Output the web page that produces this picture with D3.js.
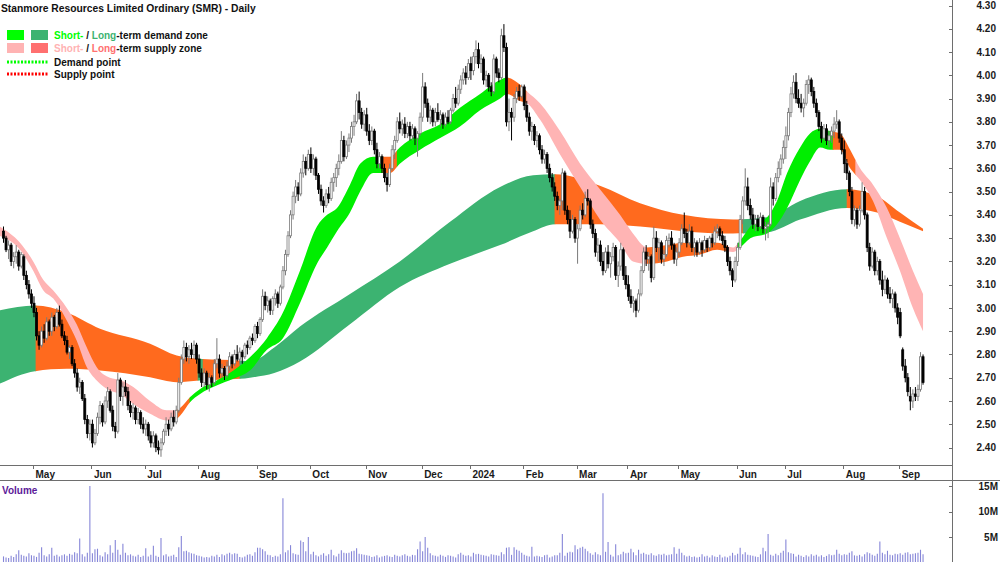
<!DOCTYPE html>
<html>
<head>
<meta charset="utf-8">
<script src="https://cdn.jsdelivr.net/npm/d3@7"></script>
<style>
  body { margin: 0; background: #fff; }
  svg { display: block; }
  text { font-family: "Liberation Sans", Arial, sans-serif; font-weight: bold; }
</style>
</head>
<body>
<div id="chart"></div>
<script>
// ---- data ----
const firstDay = "2023-04-12", lastDay = "2024-09-13";
const holidays = ["2023-04-25","2023-06-12","2023-12-25","2023-12-26","2024-01-01",
  "2024-01-26","2024-03-29","2024-04-01","2024-04-25","2024-06-10"];

// daily candles [open, high, low, close]
const candles = [
  // Apr 2023
  [3.33,3.35,3.28,3.30],[3.30,3.31,3.24,3.25],[3.25,3.29,3.21,3.27],[3.27,3.28,3.18,3.20],[3.20,3.24,3.17,3.22],[3.22,3.27,3.19,3.24],[3.24,3.25,3.16,3.18],[3.18,3.24,3.17,3.23],[3.22,3.23,3.12,3.14],[3.14,3.16,3.08,3.10],[3.10,3.12,3.04,3.06],[3.06,3.08,3.00,3.02],
  // May
  [3.02,3.05,2.96,2.98],[2.98,3.00,2.86,2.88],[2.88,2.90,2.82,2.84],[2.84,2.92,2.83,2.90],[2.90,2.93,2.85,2.87],[2.87,2.96,2.86,2.94],[2.94,2.95,2.88,2.90],[2.90,2.98,2.88,2.96],[2.96,2.97,2.90,2.92],[2.92,3.00,2.91,2.98],[2.98,3.01,2.92,2.93],[2.93,2.95,2.87,2.88],[2.88,2.90,2.84,2.86],[2.86,2.88,2.80,2.81],[2.81,2.84,2.78,2.83],[2.83,2.84,2.75,2.76],[2.76,2.78,2.70,2.72],[2.72,2.74,2.64,2.66],[2.66,2.70,2.63,2.68],[2.68,2.69,2.60,2.61],[2.61,2.63,2.50,2.52],[2.52,2.54,2.44,2.46],[2.46,2.52,2.43,2.50],
  // Jun
  [2.50,2.52,2.40,2.42],[2.42,2.48,2.41,2.46],[2.46,2.55,2.45,2.53],[2.53,2.60,2.50,2.58],[2.58,2.59,2.49,2.51],[2.51,2.62,2.50,2.60],[2.60,2.66,2.57,2.64],[2.64,2.65,2.55,2.56],[2.56,2.58,2.47,2.49],[2.49,2.51,2.44,2.47],[2.47,2.72,2.46,2.69],[2.69,2.70,2.60,2.62],[2.62,2.68,2.58,2.66],[2.66,2.69,2.62,2.64],[2.64,2.66,2.56,2.58],[2.58,2.60,2.53,2.55],[2.55,2.59,2.52,2.57],[2.57,2.58,2.50,2.52],[2.52,2.57,2.50,2.55],[2.55,2.56,2.48,2.50],[2.50,2.53,2.46,2.48],
  // Jul
  [2.48,2.52,2.45,2.50],[2.50,2.51,2.43,2.45],[2.45,2.47,2.40,2.42],[2.42,2.47,2.40,2.45],[2.45,2.46,2.38,2.40],[2.40,2.43,2.37,2.39],[2.39,2.44,2.36,2.42],[2.42,2.48,2.41,2.47],[2.47,2.53,2.45,2.50],[2.50,2.52,2.45,2.48],[2.48,2.55,2.47,2.53],[2.53,2.56,2.49,2.51],[2.51,2.58,2.50,2.56],[2.56,2.70,2.55,2.68],[2.68,2.80,2.67,2.78],[2.78,2.86,2.76,2.83],[2.83,2.85,2.77,2.79],[2.79,2.84,2.76,2.82],[2.82,2.85,2.78,2.80],[2.80,2.86,2.78,2.84],[2.84,2.85,2.76,2.78],
  // Aug
  [2.78,2.80,2.70,2.72],[2.72,2.74,2.66,2.68],[2.68,2.74,2.66,2.72],[2.72,2.73,2.65,2.67],[2.67,2.72,2.64,2.70],[2.70,2.71,2.66,2.68],[2.68,2.78,2.67,2.76],[2.76,2.87,2.74,2.78],[2.78,2.80,2.70,2.72],[2.72,2.76,2.70,2.74],[2.74,2.75,2.69,2.71],[2.71,2.77,2.70,2.75],[2.75,2.81,2.73,2.79],[2.79,2.80,2.74,2.76],[2.76,2.82,2.75,2.80],[2.80,2.84,2.77,2.78],[2.78,2.83,2.76,2.81],[2.81,2.82,2.76,2.79],[2.79,2.85,2.78,2.84],[2.84,2.86,2.80,2.83],[2.83,2.88,2.82,2.87],[2.87,2.89,2.84,2.86],[2.86,2.93,2.85,2.92],
  // Sep
  [2.92,2.94,2.87,2.89],[2.89,2.96,2.88,2.95],[2.95,3.08,2.94,3.05],[3.05,3.07,2.99,3.01],[3.01,3.05,2.98,3.03],[3.03,3.04,2.97,2.99],[2.99,3.05,2.97,3.04],[3.04,3.08,3.01,3.06],[3.06,3.07,3.00,3.02],[3.02,3.10,3.01,3.09],[3.09,3.18,3.08,3.16],[3.16,3.25,3.14,3.23],[3.23,3.33,3.22,3.31],[3.31,3.42,3.30,3.40],[3.40,3.50,3.38,3.48],[3.48,3.55,3.45,3.52],[3.52,3.54,3.46,3.49],[3.49,3.60,3.48,3.58],[3.58,3.66,3.56,3.63],[3.63,3.65,3.57,3.60],[3.60,3.68,3.59,3.66],
  // Oct
  [3.66,3.69,3.58,3.60],[3.60,3.66,3.57,3.64],[3.64,3.65,3.55,3.57],[3.57,3.58,3.49,3.51],[3.51,3.53,3.44,3.46],[3.46,3.48,3.41,3.44],[3.44,3.51,3.43,3.49],[3.49,3.52,3.45,3.47],[3.47,3.56,3.46,3.54],[3.54,3.58,3.50,3.56],[3.56,3.62,3.52,3.60],[3.60,3.66,3.57,3.63],[3.63,3.76,3.62,3.72],[3.72,3.74,3.63,3.65],[3.65,3.72,3.64,3.70],[3.70,3.75,3.67,3.73],[3.73,3.80,3.71,3.78],[3.78,3.83,3.74,3.80],[3.80,3.92,3.79,3.89],[3.89,3.93,3.81,3.84],[3.84,3.86,3.77,3.79],[3.79,3.85,3.76,3.83],
  // Nov
  [3.83,3.86,3.74,3.76],[3.76,3.79,3.70,3.72],[3.72,3.78,3.70,3.76],[3.76,3.77,3.66,3.68],[3.68,3.71,3.60,3.62],[3.62,3.67,3.60,3.65],[3.65,3.66,3.58,3.60],[3.60,3.62,3.54,3.56],[3.56,3.58,3.50,3.53],[3.53,3.62,3.52,3.60],[3.60,3.70,3.59,3.68],[3.68,3.74,3.64,3.72],[3.72,3.82,3.71,3.80],[3.80,3.84,3.75,3.77],[3.77,3.81,3.74,3.79],[3.79,3.82,3.73,3.75],[3.75,3.80,3.73,3.78],[3.78,3.80,3.72,3.74],[3.74,3.79,3.72,3.77],[3.77,3.78,3.70,3.73],[3.73,3.76,3.65,3.75],[3.75,3.84,3.74,3.82],
  // Dec
  [3.82,4.01,3.80,3.95],[3.95,3.97,3.86,3.88],[3.88,3.90,3.80,3.82],[3.82,3.87,3.79,3.85],[3.85,3.86,3.78,3.80],[3.80,3.86,3.78,3.84],[3.84,3.88,3.80,3.81],[3.81,3.85,3.78,3.83],[3.83,3.84,3.77,3.79],[3.79,3.84,3.78,3.82],[3.82,3.85,3.79,3.80],[3.80,3.86,3.79,3.85],[3.85,3.92,3.84,3.90],[3.90,3.95,3.86,3.88],[3.88,3.96,3.87,3.94],[3.94,4.00,3.92,3.98],[3.98,4.03,3.96,4.01],[4.01,4.04,3.96,3.99],[3.99,4.07,3.98,4.05],
  // Jan 2024
  [4.05,4.08,3.98,4.02],[4.02,4.10,4.00,4.08],[4.08,4.15,4.05,4.11],[4.11,4.14,4.03,4.05],[4.05,4.09,4.01,4.07],[4.07,4.08,3.96,3.98],[3.98,4.02,3.95,4.00],[4.00,4.01,3.93,3.95],[3.95,3.97,3.91,3.93],[3.93,4.09,3.92,4.07],[4.07,4.08,3.99,4.01],[4.01,4.03,3.97,3.99],[3.99,4.20,3.98,4.17],[4.17,4.22,4.10,4.12],[4.12,4.14,3.78,3.80],[3.80,3.90,3.76,3.84],[3.84,3.86,3.72,3.82],[3.82,3.92,3.80,3.90],[3.90,3.95,3.88,3.93],[3.93,3.96,3.89,3.91],[3.91,3.96,3.90,3.95],
  // Feb
  [3.95,3.96,3.85,3.87],[3.87,3.89,3.80,3.82],[3.82,3.84,3.74,3.76],[3.76,3.80,3.72,3.78],[3.78,3.79,3.70,3.72],[3.72,3.76,3.69,3.74],[3.74,3.75,3.66,3.68],[3.68,3.70,3.62,3.64],[3.64,3.68,3.62,3.66],[3.66,3.67,3.58,3.60],[3.60,3.62,3.54,3.56],[3.56,3.58,3.50,3.52],[3.52,3.54,3.46,3.48],[3.48,3.50,3.42,3.44],[3.44,3.47,3.40,3.46],[3.46,3.60,3.42,3.58],[3.58,3.59,3.40,3.42],[3.42,3.44,3.36,3.38],[3.38,3.42,3.30,3.33],[3.33,3.40,3.32,3.38],[3.38,3.39,3.28,3.30],
  // Mar
  [3.30,3.36,3.19,3.34],[3.34,3.44,3.33,3.42],[3.42,3.45,3.38,3.40],[3.40,3.50,3.39,3.47],[3.47,3.51,3.44,3.46],[3.46,3.47,3.34,3.36],[3.36,3.38,3.30,3.32],[3.32,3.34,3.22,3.24],[3.24,3.30,3.20,3.27],[3.27,3.29,3.18,3.20],[3.20,3.24,3.14,3.16],[3.16,3.26,3.15,3.24],[3.24,3.27,3.17,3.19],[3.19,3.24,3.13,3.22],[3.22,3.28,3.20,3.26],[3.26,3.27,3.12,3.14],[3.14,3.20,3.09,3.18],[3.18,3.28,3.16,3.25],[3.25,3.26,3.12,3.14],[3.14,3.18,3.08,3.10],
  // Apr
  [3.10,3.14,3.03,3.05],[3.05,3.08,3.00,3.02],[3.02,3.05,2.98,3.03],[3.03,3.04,2.96,2.99],[2.99,3.08,2.98,3.06],[3.06,3.18,3.05,3.16],[3.16,3.26,3.15,3.24],[3.24,3.27,3.18,3.21],[3.21,3.24,3.16,3.22],[3.22,3.23,3.11,3.13],[3.13,3.35,3.12,3.30],[3.30,3.33,3.24,3.26],[3.26,3.30,3.20,3.28],[3.28,3.29,3.19,3.21],[3.21,3.25,3.18,3.23],[3.23,3.31,3.22,3.29],[3.29,3.32,3.26,3.30],[3.30,3.33,3.25,3.27],[3.27,3.28,3.19,3.21],[3.21,3.26,3.18,3.24],
  // May
  [3.24,3.30,3.22,3.28],[3.28,3.36,3.27,3.34],[3.34,3.41,3.30,3.32],[3.32,3.34,3.26,3.28],[3.28,3.36,3.27,3.33],[3.33,3.35,3.24,3.26],[3.26,3.30,3.22,3.28],[3.28,3.29,3.22,3.24],[3.24,3.30,3.23,3.28],[3.28,3.29,3.22,3.25],[3.25,3.31,3.24,3.29],[3.29,3.30,3.24,3.26],[3.26,3.31,3.25,3.30],[3.30,3.32,3.26,3.28],[3.28,3.35,3.27,3.33],[3.33,3.36,3.30,3.34],[3.34,3.35,3.29,3.31],[3.31,3.33,3.27,3.29],[3.29,3.31,3.24,3.26],[3.26,3.27,3.18,3.20],[3.20,3.22,3.14,3.16],[3.16,3.17,3.09,3.12],[3.12,3.22,3.11,3.20],
  // Jun
  [3.20,3.28,3.18,3.26],[3.26,3.40,3.25,3.38],[3.38,3.48,3.36,3.46],[3.46,3.60,3.44,3.52],[3.52,3.56,3.42,3.44],[3.44,3.47,3.38,3.40],[3.40,3.43,3.34,3.36],[3.36,3.40,3.33,3.38],[3.38,3.40,3.33,3.35],[3.35,3.41,3.34,3.39],[3.39,3.40,3.32,3.34],[3.34,3.37,3.29,3.35],[3.35,3.37,3.30,3.36],[3.36,3.56,3.35,3.52],[3.52,3.54,3.44,3.47],[3.47,3.58,3.46,3.56],[3.56,3.63,3.54,3.60],[3.60,3.66,3.57,3.64],[3.64,3.72,3.62,3.69],
  // Jul
  [3.69,3.78,3.64,3.74],[3.74,3.86,3.72,3.84],[3.84,3.95,3.82,3.92],[3.92,4.00,3.90,3.97],[3.97,4.01,3.88,3.90],[3.90,3.94,3.86,3.88],[3.88,3.92,3.84,3.86],[3.86,3.90,3.82,3.88],[3.88,3.98,3.87,3.96],[3.96,4.00,3.92,3.98],[3.98,3.99,3.91,3.93],[3.93,3.95,3.86,3.88],[3.88,3.90,3.82,3.84],[3.84,3.85,3.76,3.78],[3.78,3.80,3.71,3.73],[3.73,3.79,3.72,3.77],[3.77,3.79,3.70,3.72],[3.72,3.76,3.69,3.74],[3.74,3.78,3.71,3.76],[3.76,3.82,3.73,3.79],[3.79,3.85,3.77,3.80],[3.80,3.81,3.71,3.73],[3.73,3.75,3.66,3.68],
  // Aug
  [3.68,3.72,3.58,3.62],[3.62,3.64,3.55,3.58],[3.58,3.59,3.48,3.50],[3.50,3.52,3.36,3.38],[3.38,3.44,3.35,3.42],[3.42,3.43,3.34,3.36],[3.36,3.44,3.35,3.42],[3.42,3.54,3.41,3.50],[3.50,3.52,3.38,3.40],[3.40,3.41,3.24,3.26],[3.26,3.28,3.16,3.18],[3.18,3.26,3.17,3.24],[3.24,3.25,3.14,3.16],[3.16,3.22,3.14,3.20],[3.20,3.21,3.10,3.12],[3.12,3.16,3.05,3.08],[3.08,3.14,3.06,3.12],[3.12,3.13,3.04,3.06],[3.06,3.09,3.02,3.04],[3.04,3.08,3.00,3.06],[3.06,3.07,2.98,3.00],[3.00,3.02,2.93,2.96],
  // Sep
  [2.98,3.00,2.87,2.88],[2.82,2.83,2.73,2.75],[2.75,2.78,2.68,2.70],[2.70,2.72,2.62,2.64],[2.62,2.66,2.56,2.60],[2.60,2.65,2.57,2.63],[2.63,2.66,2.60,2.62],[2.62,2.67,2.60,2.65],[2.65,2.81,2.64,2.79],[2.79,2.80,2.67,2.68]
];

// daily volume, millions of shares
const volumes = [
  1.2,1.0,0.9,1.3,1.1,1.6,2.4,1.5,1.3,1.2,1.8,1.4,
  1.3,1.1,1.9,3.0,1.4,1.2,1.6,2.9,1.3,1.5,1.2,1.4,1.6,1.3,1.7,1.5,2.0,1.8,4.7,1.6,1.2,1.9,15.0,
  1.8,2.6,2.7,1.4,1.2,2.0,1.6,3.4,1.9,4.4,2.5,1.5,3.7,1.9,1.4,1.6,1.3,1.2,1.5,1.1,1.3,
  2.8,1.2,1.5,3.3,1.3,1.1,4.8,1.4,1.6,1.2,1.3,1.5,1.1,3.0,5.2,2.2,2.3,2.0,1.8,1.7,1.4,
  1.3,1.2,1.0,1.1,1.0,1.3,1.2,1.5,1.1,1.6,1.4,1.7,1.9,1.6,1.8,1.7,1.1,1.0,1.2,1.5,1.6,1.3,2.0,
  2.9,2.9,2.6,2.2,1.5,1.4,1.1,1.3,1.2,1.6,12.6,2.0,2.4,3.4,1.8,1.6,1.5,4.3,4.0,2.2,5.0,
  1.6,2.1,1.4,1.2,1.5,1.8,1.3,1.6,2.5,1.4,1.2,1.7,2.4,1.9,1.8,1.9,2.2,2.3,2.8,1.7,1.6,1.5,
  1.4,1.3,1.1,1.2,1.4,1.0,1.2,1.3,1.4,1.2,1.1,1.5,1.3,1.2,1.4,1.6,1.3,1.2,1.5,1.4,2.6,4.1,
  2.2,5.0,2.9,1.8,1.4,1.3,1.2,1.5,1.3,1.1,1.4,1.3,1.2,1.0,1.6,1.9,1.5,1.3,1.4,
  1.2,1.9,1.6,1.7,1.5,1.4,1.3,1.2,1.6,1.5,1.4,1.3,2.0,1.6,2.9,3.0,1.5,3.0,2.5,2.3,1.9,
  1.5,1.3,1.2,3.1,1.2,1.3,1.2,1.1,1.4,1.5,1.0,1.2,1.4,1.4,1.9,5.6,1.3,1.9,2.1,2.0,3.4,
  2.6,2.9,3.1,2.7,2.2,1.8,1.5,2.0,1.6,1.4,13.6,2.1,4.0,1.5,1.2,3.6,1.4,1.6,2.1,1.8,
  1.9,2.7,2.0,1.4,2.5,1.7,1.9,1.6,1.5,1.8,1.4,1.3,1.6,1.5,1.7,1.4,1.5,1.6,3.0,1.7,
  2.7,1.9,1.4,1.2,1.3,1.1,1.2,1.0,1.1,1.6,1.2,1.3,1.0,1.4,1.2,1.1,1.5,1.0,1.2,1.0,1.3,1.9,1.4,
  1.7,2.9,1.6,2.0,1.5,1.4,1.3,1.2,1.1,1.6,2.9,2.2,5.6,1.5,1.3,1.7,1.4,1.9,2.3,
  4.5,2.0,1.8,1.7,1.2,1.5,1.3,1.1,1.4,1.2,1.6,1.3,1.5,1.2,1.4,1.1,1.3,1.6,1.4,1.5,2.5,1.7,1.4,
  1.6,1.5,1.9,2.2,1.4,1.3,1.5,1.2,1.6,2.0,1.8,1.5,1.3,1.7,4.1,1.9,1.6,2.3,1.5,1.4,1.7,1.6,
  1.8,1.5,1.9,2.0,1.6,1.7,1.8,1.9,2.5,1.6
];

// short-term zone edges, sampled at trading-day index
const shortIdx = [-1.5,6.5,11.7,15.7,19.6,24.9,28.8,32.8,36.7,41.9,45.9,51.1,57.7,64.3,67.5,69.5,73.4,77.4,83.9,90.5,97,103.7,110,116.7,123.4,127.4,131.3,136.4,140.4,145.5,152.2,156,164,171.9,179.7,187.6,195.5,198.2,203.3,206.1,211.2,219.1,227,234.8,242.7,247.8,253.4,261.2,267.5,274.2,280.9,287.2,290,294,300.6,304.5,308.5,313.6,317.5,321.5,325.4,329.3,333.3,337.2,342.3,347.8,352.9,358,362];
const shortHi  = [3.35,3.28,3.20,3.12,3.075,3.00,2.93,2.83,2.745,2.70,2.69,2.66,2.60,2.56,2.56,2.57,2.616,2.652,2.688,2.731,2.788,2.87,2.98,3.16,3.35,3.40,3.43,3.53,3.62,3.65,3.65,3.69,3.75,3.79,3.86,3.92,3.98,3.99,3.96,3.93,3.88,3.76,3.62,3.51,3.40,3.32,3.26,3.27,3.28,3.275,3.28,3.26,3.29,3.35,3.39,3.46,3.58,3.69,3.75,3.77,3.76,3.75,3.68,3.60,3.53,3.43,3.30,3.16,3.06];
const shortLo  = [3.31,3.25,3.16,3.075,3.04,2.946,2.86,2.745,2.688,2.645,2.63,2.587,2.545,2.516,2.52,2.537,2.595,2.63,2.666,2.695,2.731,2.82,2.87,3.02,3.19,3.26,3.33,3.41,3.50,3.58,3.58,3.62,3.68,3.73,3.78,3.85,3.90,3.92,3.89,3.88,3.81,3.66,3.52,3.38,3.28,3.20,3.19,3.20,3.22,3.23,3.25,3.24,3.26,3.30,3.32,3.36,3.43,3.55,3.63,3.69,3.68,3.68,3.60,3.55,3.46,3.30,3.16,3.00,2.90];
// long-term zone edges
const longIdx = [-1.5,12.4,24.9,38,57.7,68.2,77.4,93.1,97,106.6,116.7,136.4,156,175.8,195.5,208.5,217.1,234.8,250.6,267.5,287.2,300.6,313.6,332.1,343.9,352.9,362];
const longHi  = [2.99,3.01,2.98,2.91,2.846,2.795,2.781,2.774,2.77,2.83,2.92,3.06,3.20,3.37,3.52,3.57,3.575,3.525,3.45,3.40,3.38,3.39,3.46,3.51,3.48,3.41,3.34];
const longLo  = [2.674,2.728,2.738,2.731,2.702,2.681,2.688,2.695,2.70,2.72,2.77,2.93,3.09,3.19,3.27,3.33,3.36,3.36,3.35,3.33,3.32,3.325,3.38,3.43,3.41,3.37,3.33];

// zone states along the index axis: [from, to, state]
const shortZones = [[-1.5,68.3,"supply"],[68.3,73.4,"turn"],[73.4,149.4,"demand"],[149.4,155,"turn"],[155,198.2,"demand"],[198.2,206,"turn"],[206,253.4,"supply"],[253.4,285,"turn"],[285,289,"supply"],[289,326.6,"demand"],[326.6,335.5,"turn"],[335.5,363,"supply"]];
const longZones = [[-1.5,12.8,"demand"],[12.8,76.6,"supply"],[76.6,78.6,"demand"],[78.6,93.1,"supply"],[93.1,217.1,"demand"],[217.1,291.2,"supply"],[291.2,332.1,"demand"],[332.1,363,"supply"]];

const priceTicks = [2.4,2.5,2.6,2.7,2.8,2.9,3.0,3.1,3.2,3.3,3.4,3.5,3.6,3.7,3.8,3.9,4.0,4.1,4.2,4.3];
const volumeTicks = [5,10,15];

// ---- layout ----
const W = 1000, H = 562, plotR = 952;
const priceTop = 0, priceBottom = 465;

const parseDate = d3.timeParse("%Y-%m-%d"), fmtDay = d3.timeFormat("%Y-%m-%d");
const days = d3.timeDay.range(parseDate(firstDay), d3.timeDay.offset(parseDate(lastDay), 1))
  .filter(d => d.getDay() % 6 !== 0 && !holidays.includes(fmtDay(d)));

const x = d3.scaleLinear().domain([-1.38, 373.4]).range([0, plotR]);
const y = d3.scaleLinear().domain([2.4, 4.3]).range([447.5, 5.5]);
const yv = d3.scaleLinear().domain([0, 15]).range([562.5, 486]);

const svg = d3.select("#chart").append("svg")
    .attr("width", W).attr("height", H);

svg.append("clipPath").attr("id", "plotClip")
  .append("rect").attr("x", 0).attr("y", priceTop).attr("width", plotR).attr("height", priceBottom - priceTop);

const plot = svg.append("g").attr("clip-path", "url(#plotClip)");

// zone bands
function drawBand(idx, hi, lo, zones, colors, name) {
  const pts = idx.map((d, k) => ({i: d, hi: hi[k], lo: lo[k]}));
  const area = d3.area().x(d => x(d.i)).y0(d => y(d.lo)).y1(d => y(d.hi)).curve(d3.curveMonotoneX);
  zones.forEach((z, k) => {
    const id = name + k;
    svg.append("clipPath").attr("id", id).append("rect")
      .attr("x", x(z[0]) - 0.4).attr("y", 0)
      .attr("width", x(z[1]) - x(z[0]) + 0.8).attr("height", priceBottom);
    plot.append("path").datum(pts)
      .attr("clip-path", `url(#${id})`)
      .attr("fill", colors[z[2]])
      .attr("d", area);
  });
}
drawBand(longIdx, longHi, longLo, longZones, {demand: "#3cb371", supply: "#ff6a1e"}, "lz");
drawBand(shortIdx, shortHi, shortLo, shortZones, {demand: "#00ee00", supply: "#ffb4b4", turn: "#ff6a1e"}, "sz");

// candles
const cd = candles.map((c, i) => ({i, o: c[0], h: c[1], l: c[2], c: c[3], up: c[3] >= c[0]}));
plot.selectAll(".wick").data(cd).join("line")
  .attr("x1", d => x(d.i)).attr("x2", d => x(d.i))
  .attr("y1", d => y(d.h)).attr("y2", d => y(d.l))
  .attr("stroke", d => d.up ? "#7a7a7a" : "#000").attr("stroke-width", 1);
plot.selectAll(".body").data(cd).join("rect")
  .attr("x", d => x(d.i) - 1)
  .attr("y", d => y(Math.max(d.o, d.c)))
  .attr("width", 2)
  .attr("height", d => Math.max(1, Math.abs(y(d.o) - y(d.c))))
  .attr("fill", d => d.up ? "#fff" : "#000")
  .attr("stroke", d => d.up ? "#7a7a7a" : "#000")
  .attr("stroke-width", 0.8);

// volume bars
svg.append("g").selectAll("line").data(volumes).join("line")
  .attr("x1", (d, i) => x(i)).attr("x2", (d, i) => x(i))
  .attr("y1", yv(0)).attr("y2", d => yv(d))
  .attr("stroke", "#8686d8").attr("stroke-width", 1.1);

// frame lines
const lineCol = "#6e6e6e";
svg.append("line").attr("x1", 0).attr("x2", plotR).attr("y1", 465.5).attr("y2", 465.5).attr("stroke", lineCol);
svg.append("line").attr("x1", 0).attr("x2", W).attr("y1", 480.5).attr("y2", 480.5).attr("stroke", lineCol);
svg.append("line").attr("x1", plotR + 0.5).attr("x2", plotR + 0.5).attr("y1", 0).attr("y2", H).attr("stroke", lineCol);

// price axis
const pAxis = svg.append("g");
pAxis.selectAll("line").data(priceTicks).join("line")
  .attr("x1", plotR - 3).attr("x2", plotR).attr("y1", d => Math.round(y(d)) + 0.5).attr("y2", d => Math.round(y(d)) + 0.5)
  .attr("stroke", lineCol);
pAxis.selectAll("text").data(priceTicks).join("text")
  .attr("x", 996).attr("y", d => y(d)).attr("dy", "0.36em")
  .attr("text-anchor", "end").attr("font-size", 10).attr("fill", "#1a1a1a")
  .text(d => d.toFixed(2));

// volume axis
const vAxis = svg.append("g");
vAxis.selectAll("line").data(volumeTicks).join("line")
  .attr("x1", plotR - 3).attr("x2", plotR).attr("y1", d => Math.round(yv(d)) + 0.5).attr("y2", d => Math.round(yv(d)) + 0.5)
  .attr("stroke", lineCol);
vAxis.selectAll("text").data(volumeTicks).join("text")
  .attr("x", 998).attr("y", d => yv(d)).attr("dy", "0.36em")
  .attr("text-anchor", "end").attr("font-size", 10).attr("fill", "#1a1a1a")
  .text(d => d + "M");

// month axis
const monthStarts = days.map((d, i) => ({d, i}))
  .filter(o => o.i > 0 && o.d.getMonth() !== days[o.i - 1].getMonth());
const mAxis = svg.append("g");
mAxis.selectAll("line").data(monthStarts).join("line")
  .attr("x1", o => Math.round(x(o.i)) - 0.5).attr("x2", o => Math.round(x(o.i)) - 0.5)
  .attr("y1", 465.5).attr("y2", 469).attr("stroke", lineCol);
mAxis.selectAll("text").data(monthStarts).join("text")
  .attr("x", o => x(o.i) + 1.5).attr("y", 477.5)
  .attr("font-size", 10).attr("fill", "#1a1a1a")
  .text(o => o.d.getMonth() === 0 ? d3.timeFormat("%Y")(o.d) : d3.timeFormat("%b")(o.d));

// title and legend
svg.append("text").attr("x", 1).attr("y", 11.5).attr("font-size", 10.3).attr("fill", "#111")
  .text("Stanmore Resources Limited Ordinary (SMR) - Daily");

const leg = svg.append("g");
[["#00ff00", 7, 30], ["#3cb371", 31, 30], ["#ffb3b3", 7, 43], ["#ff7070", 31, 43]].forEach(s =>
  leg.append("rect").attr("x", s[1]).attr("y", s[2]).attr("width", 17).attr("height", 10).attr("fill", s[0]));

function legendText(yy, parts) {
  const t = leg.append("text").attr("x", 54).attr("y", yy).attr("font-size", 10);
  parts.forEach(p => t.append("tspan").attr("fill", p[1]).text(p[0]));
}
legendText(38.5, [["Short-", "#00ff00"], [" / ", "#111"], ["Long", "#3cb371"], ["-term demand zone", "#111"]]);
legendText(51.5, [["Short-", "#ffb3b3"], [" / ", "#111"], ["Long", "#ff7070"], ["-term supply zone", "#111"]]);
legendText(65.5, [["Demand point", "#111"]]);
legendText(77.5, [["Supply point", "#111"]]);
leg.append("line").attr("x1", 7).attr("x2", 49).attr("y1", 62).attr("y2", 62)
  .attr("stroke", "#00ff00").attr("stroke-width", 3).attr("stroke-dasharray", "2,1.5");
leg.append("line").attr("x1", 7).attr("x2", 49).attr("y1", 74).attr("y2", 74)
  .attr("stroke", "#ff0000").attr("stroke-width", 3).attr("stroke-dasharray", "2,1.5");

svg.append("text").attr("x", 2).attr("y", 494).attr("font-size", 10).attr("fill", "#5c1a99").text("Volume");
</script>
</body>
</html>
